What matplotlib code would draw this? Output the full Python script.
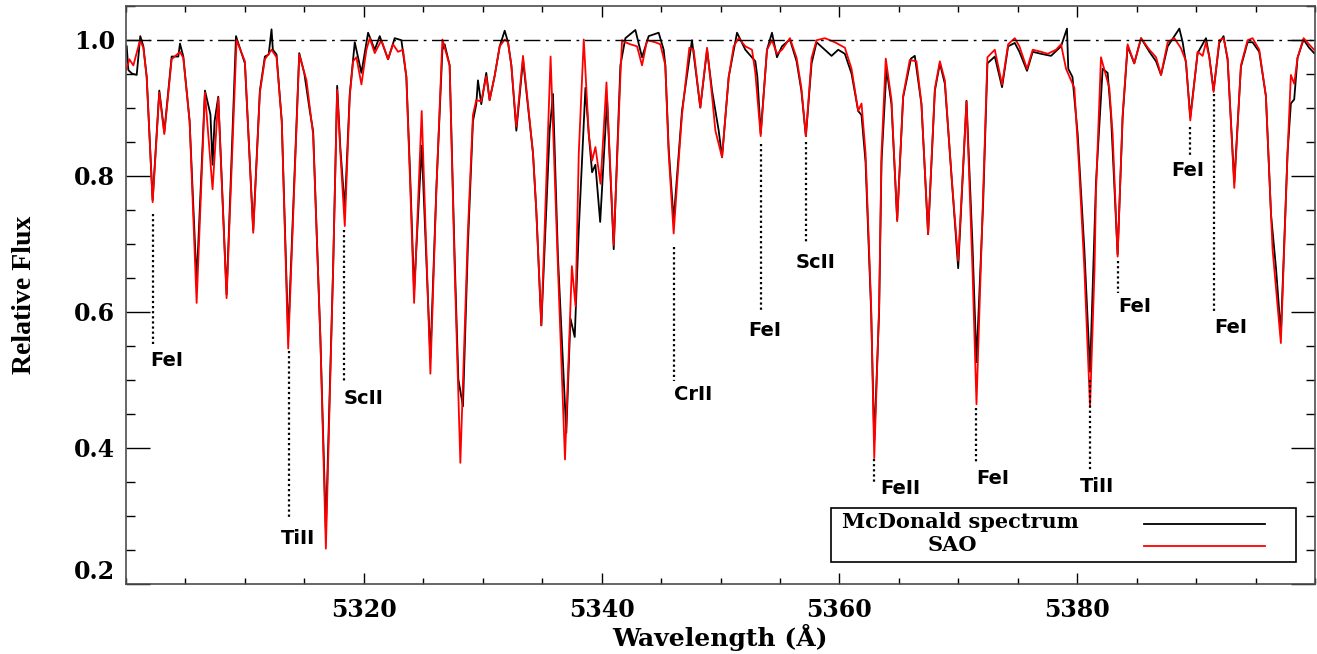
import matplotlib
matplotlib.use("Agg")
import matplotlib.pyplot as plt
from matplotlib.ticker import FixedLocator, MultipleLocator

# SAO spectrum (wavelength in Angstrom, relative flux)
sao_points = [
    (5300.06, 0.957), (5300.28, 0.971), (5300.62, 0.962), (5301.18, 0.999), (5301.46, 0.988),
    (5301.74, 0.945), (5302.24, 0.761), (5302.80, 0.922), (5303.22, 0.861), (5303.84, 0.971),
    (5304.54, 0.982), (5304.82, 0.973), (5305.35, 0.880), (5305.94, 0.613), (5306.64, 0.922),
    (5307.28, 0.780), (5307.76, 0.914), (5308.46, 0.620), (5309.30, 0.999), (5310.00, 0.968),
    (5310.70, 0.716), (5311.26, 0.922), (5311.68, 0.971), (5312.24, 0.985), (5312.66, 0.974),
    (5313.10, 0.880), (5313.64, 0.546), (5314.57, 0.978), (5315.18, 0.940), (5315.74, 0.860),
    (5316.35, 0.560), (5316.81, 0.252), (5317.42, 0.664), (5317.76, 0.926), (5318.03, 0.833),
    (5318.40, 0.726), (5318.82, 0.917), (5319.10, 0.968), (5319.38, 0.974), (5319.80, 0.934),
    (5320.22, 0.985), (5320.50, 1.002), (5320.92, 0.980), (5321.48, 0.999), (5322.04, 0.971),
    (5322.46, 0.993), (5322.88, 0.982), (5323.30, 0.985), (5323.58, 0.945), (5323.92, 0.777),
    (5324.23, 0.613), (5324.87, 0.895), (5325.60, 0.509), (5326.10, 0.777), (5326.61, 1.000),
    (5327.22, 0.962), (5327.64, 0.664), (5328.12, 0.378), (5328.76, 0.720), (5329.18, 0.889),
    (5329.46, 0.911), (5329.88, 0.909), (5330.30, 0.946), (5330.58, 0.911), (5331.00, 0.946),
    (5331.43, 0.990), (5331.85, 1.000), (5332.13, 0.996), (5332.41, 0.962), (5332.83, 0.872),
    (5333.39, 0.976), (5334.23, 0.833), (5334.51, 0.748), (5334.93, 0.580), (5335.71, 0.975),
    (5336.33, 0.664), (5336.92, 0.383), (5337.50, 0.667), (5337.81, 0.608), (5338.08, 0.833),
    (5338.50, 1.000), (5338.92, 0.861), (5339.20, 0.822), (5339.48, 0.842), (5339.91, 0.788),
    (5340.41, 0.937), (5341.02, 0.698), (5341.58, 0.946), (5341.72, 0.999), (5342.00, 0.996),
    (5342.42, 0.993), (5342.98, 0.990), (5343.40, 0.962), (5343.82, 0.999), (5344.52, 0.996),
    (5344.94, 0.993), (5345.36, 0.962), (5345.64, 0.833), (5346.06, 0.715), (5346.48, 0.822),
    (5346.76, 0.889), (5347.38, 0.988), (5347.74, 0.985), (5348.30, 0.900), (5348.87, 0.988),
    (5349.29, 0.917), (5349.57, 0.866), (5350.13, 0.827), (5350.69, 0.945), (5351.11, 0.990),
    (5351.53, 1.002), (5352.09, 0.990), (5352.65, 0.985), (5352.93, 0.951), (5353.38, 0.858),
    (5353.91, 0.985), (5354.33, 0.999), (5354.75, 0.979), (5355.17, 0.985), (5355.84, 1.002),
    (5356.40, 0.973), (5356.80, 0.929), (5357.18, 0.858), (5357.66, 0.973), (5358.08, 0.999),
    (5358.78, 1.002), (5359.62, 0.996), (5360.46, 0.988), (5361.02, 0.957), (5361.58, 0.895),
    (5361.86, 0.906), (5362.20, 0.833), (5362.67, 0.608), (5362.93, 0.385), (5363.34, 0.608),
    (5363.54, 0.833), (5363.90, 0.972), (5364.38, 0.911), (5364.86, 0.733), (5365.36, 0.917),
    (5365.92, 0.970), (5366.48, 0.968), (5366.90, 0.906), (5367.46, 0.714), (5368.03, 0.928),
    (5368.45, 0.968), (5368.87, 0.940), (5369.43, 0.799), (5369.99, 0.675), (5370.69, 0.909),
    (5371.19, 0.664), (5371.53, 0.464), (5372.09, 0.777), (5372.45, 0.974), (5373.07, 0.985),
    (5373.68, 0.934), (5374.19, 0.993), (5374.75, 1.002), (5375.14, 0.990), (5375.78, 0.957),
    (5376.26, 0.985), (5376.96, 0.982), (5377.52, 0.979), (5378.22, 0.985), (5378.64, 0.993),
    (5379.06, 0.957), (5379.76, 0.929), (5380.18, 0.805), (5380.60, 0.664), (5381.08, 0.461),
    (5381.46, 0.664), (5381.58, 0.777), (5382.00, 0.974), (5382.70, 0.929), (5382.98, 0.861),
    (5383.40, 0.681), (5383.82, 0.889), (5384.24, 0.993), (5384.80, 0.965), (5385.37, 1.002),
    (5386.07, 0.985), (5386.63, 0.974), (5387.05, 0.948), (5387.61, 0.996), (5388.17, 1.002),
    (5388.73, 0.987), (5389.15, 0.968), (5389.51, 0.881), (5390.13, 0.982), (5390.55, 0.976),
    (5390.83, 0.996), (5391.11, 0.974), (5391.47, 0.923), (5391.95, 0.999), (5392.31, 1.002),
    (5392.65, 0.973), (5393.21, 0.782), (5393.77, 0.962), (5394.33, 0.999), (5394.75, 1.002),
    (5395.31, 0.985), (5395.87, 0.917), (5396.43, 0.692), (5397.13, 0.554), (5397.69, 0.833),
    (5397.97, 0.948), (5398.25, 0.935), (5398.53, 0.973), (5399.04, 1.002), (5399.65, 0.990),
    (5399.93, 0.985),
]

# McDonald spectrum
mcd_points = [
    (5300.06, 0.990), (5300.20, 0.955), (5300.50, 0.950), (5300.90, 0.948), (5301.20, 1.005),
    (5301.46, 0.990), (5301.74, 0.945), (5302.24, 0.764), (5302.80, 0.925), (5303.22, 0.864),
    (5303.84, 0.975), (5304.40, 0.975), (5304.54, 0.994), (5304.82, 0.975), (5305.35, 0.880),
    (5305.94, 0.644), (5306.64, 0.925), (5307.10, 0.890), (5307.28, 0.816), (5307.45, 0.880),
    (5307.76, 0.916), (5308.46, 0.625), (5309.25, 1.005), (5310.00, 0.965), (5310.70, 0.720),
    (5311.26, 0.925), (5311.68, 0.975), (5312.00, 0.978), (5312.24, 1.015), (5312.35, 0.985),
    (5312.66, 0.978), (5313.10, 0.880), (5313.64, 0.563), (5314.57, 0.980), (5315.00, 0.950),
    (5315.46, 0.895), (5315.74, 0.865), (5316.35, 0.560), (5316.81, 0.279), (5317.42, 0.664),
    (5317.76, 0.932), (5318.03, 0.840), (5318.40, 0.751), (5318.82, 0.920), (5319.24, 0.996),
    (5319.80, 0.951), (5320.36, 1.010), (5320.92, 0.985), (5321.34, 1.005), (5322.04, 0.971),
    (5322.60, 1.002), (5323.16, 0.999), (5323.58, 0.945), (5323.92, 0.790), (5324.23, 0.630),
    (5324.87, 0.844), (5325.60, 0.532), (5326.10, 0.780), (5326.61, 0.985), (5326.80, 0.993),
    (5327.22, 0.962), (5327.64, 0.680), (5327.95, 0.501), (5328.34, 0.461), (5328.76, 0.700),
    (5329.18, 0.880), (5329.46, 0.905), (5329.60, 0.940), (5329.88, 0.905), (5330.30, 0.951),
    (5330.58, 0.911), (5331.00, 0.946), (5331.43, 0.990), (5331.85, 1.013), (5332.13, 0.996),
    (5332.41, 0.962), (5332.83, 0.866), (5333.39, 0.970), (5334.23, 0.833), (5334.51, 0.748),
    (5334.93, 0.580), (5335.63, 0.866), (5335.91, 0.920), (5336.33, 0.680), (5337.03, 0.422),
    (5337.38, 0.590), (5337.74, 0.563), (5338.08, 0.720), (5338.64, 0.929), (5338.92, 0.861),
    (5339.20, 0.805), (5339.48, 0.816), (5339.88, 0.732), (5340.46, 0.912), (5341.02, 0.692),
    (5341.58, 0.962), (5342.00, 1.002), (5342.84, 1.014), (5343.40, 0.974), (5343.96, 1.005),
    (5344.80, 1.010), (5345.22, 0.985), (5345.36, 0.962), (5345.64, 0.840), (5346.06, 0.734),
    (5346.48, 0.830), (5346.76, 0.895), (5347.60, 0.999), (5348.30, 0.900), (5348.87, 0.985),
    (5349.29, 0.925), (5349.57, 0.895), (5349.85, 0.866), (5350.13, 0.827), (5350.69, 0.945),
    (5351.39, 1.010), (5352.09, 0.985), (5352.93, 0.968), (5353.10, 0.945), (5353.38, 0.862),
    (5353.91, 0.985), (5354.33, 1.010), (5354.75, 0.974), (5355.17, 0.990), (5355.84, 1.000),
    (5356.40, 0.968), (5356.80, 0.925), (5357.18, 0.858), (5357.66, 0.965), (5358.08, 0.996),
    (5358.78, 0.985), (5359.34, 0.976), (5359.90, 0.985), (5360.46, 0.979), (5361.02, 0.950),
    (5361.58, 0.895), (5361.86, 0.889), (5362.20, 0.820), (5362.67, 0.600), (5362.93, 0.410),
    (5363.34, 0.600), (5363.54, 0.820), (5363.96, 0.957), (5364.38, 0.905), (5364.86, 0.735),
    (5365.36, 0.915), (5366.02, 0.972), (5366.34, 0.976), (5366.90, 0.905), (5367.46, 0.714),
    (5368.03, 0.925), (5368.45, 0.965), (5368.87, 0.935), (5369.43, 0.800), (5369.99, 0.664),
    (5370.69, 0.910), (5371.19, 0.700), (5371.53, 0.526), (5372.09, 0.760), (5372.45, 0.965),
    (5373.07, 0.975), (5373.68, 0.930), (5374.19, 0.990), (5374.75, 0.995), (5375.14, 0.982),
    (5375.78, 0.954), (5376.26, 0.982), (5376.96, 0.979), (5377.80, 0.976), (5378.64, 0.990),
    (5379.14, 1.016), (5379.25, 0.957), (5379.60, 0.945), (5380.04, 0.861), (5380.32, 0.777),
    (5380.60, 0.692), (5381.08, 0.512), (5381.35, 0.664), (5381.58, 0.790), (5382.14, 0.957),
    (5382.56, 0.951), (5382.84, 0.889), (5383.40, 0.684), (5383.82, 0.885), (5384.24, 0.990),
    (5384.80, 0.965), (5385.37, 1.002), (5386.07, 0.982), (5386.63, 0.968), (5387.05, 0.948),
    (5387.61, 0.990), (5388.17, 1.005), (5388.59, 1.016), (5388.87, 0.996), (5389.15, 0.965),
    (5389.51, 0.886), (5390.13, 0.980), (5390.83, 1.002), (5391.11, 0.975), (5391.47, 0.925),
    (5391.95, 0.995), (5392.31, 1.005), (5392.65, 0.970), (5393.21, 0.790), (5393.77, 0.960),
    (5394.33, 0.996), (5394.75, 0.996), (5395.31, 0.982), (5395.87, 0.917), (5396.30, 0.743),
    (5396.72, 0.664), (5397.13, 0.568), (5397.69, 0.833), (5397.97, 0.906), (5398.25, 0.912),
    (5398.53, 0.973), (5399.04, 1.000), (5399.50, 0.988), (5399.93, 0.980),
]

# line identifications
line_labels = ["FeI", "TiII", "ScII", "CrII", "FeI", "ScII",
               "FeII", "FeI", "TiII", "FeI", "FeI", "FeI"]
line_waves = [5302.24, 5313.72, 5318.37, 5346.06, 5353.38, 5357.18,
              5362.93, 5371.53, 5381.08, 5383.40, 5389.51, 5391.47]
mark_tops = [0.743, 0.543, 0.720, 0.695, 0.847, 0.850,
             0.383, 0.459, 0.500, 0.675, 0.872, 0.920]
mark_bottoms = [0.549, 0.298, 0.498, 0.498, 0.600, 0.700,
                0.349, 0.377, 0.368, 0.627, 0.830, 0.600]
text_x = [5302.0, 5313.0, 5318.3, 5346.06, 5352.36, 5356.32,
          5363.4, 5371.53, 5380.2, 5383.45, 5387.93, 5391.52]
text_y = [0.528, 0.267, 0.473, 0.478, 0.573, 0.672,
          0.340, 0.355, 0.343, 0.608, 0.808, 0.577]

xticks = [5320, 5340, 5360, 5380]
yticks = [0.2, 0.4, 0.6, 0.8, 1.0]

mcd_wave = [p[0] for p in mcd_points]
mcd_flux = [p[1] for p in mcd_points]
sao_wave = [p[0] for p in sao_points]
sao_flux = [p[1] for p in sao_points]

W, H = 1317, 654
fig = plt.figure(figsize=(W / 100, H / 100), dpi=100)
ax = fig.add_axes([126 / W, 1 - 584 / H, 1189 / W, 578.5 / H])

ax.plot(mcd_wave, mcd_flux, color="black", lw=1.3)
ax.plot(sao_wave, sao_flux, color="red", lw=1.3)
ax.axhline(1.0, color="black", lw=1.0, ls=(0, (12, 4, 2, 4)))

for lab, w, t, b, tx, ty in zip(line_labels, line_waves, mark_tops, mark_bottoms, text_x, text_y):
    ax.plot([w, w], [t, b], color="black", lw=1.6, ls=(0, (1, 1.3)))
    ax.text(tx, ty, lab, ha="left", va="center", fontsize=14,
            family="DejaVu Sans", fontweight="bold")

ax.set_xlim(5300, 5400)
ax.set_ylim(0.2, 1.05)

ax.xaxis.set_major_locator(FixedLocator(xticks))
ax.xaxis.set_minor_locator(MultipleLocator(5))
ax.yaxis.set_major_locator(FixedLocator(yticks))
ax.yaxis.set_minor_locator(MultipleLocator(0.05))
ax.set_yticklabels([f"{v:.1f}" for v in yticks])
ax.set_xticklabels([str(v) for v in xticks])

ax.tick_params(axis="both", which="both", direction="in", top=True, right=True, color="black", width=1)
ax.tick_params(axis="x", which="major", length=8, pad=10)
ax.tick_params(axis="x", which="minor", length=4)
ax.tick_params(axis="y", which="major", length=17, pad=8)
ax.tick_params(axis="y", which="minor", length=6.5)

for lbl in ax.get_xticklabels() + ax.get_yticklabels():
    lbl.set_family("DejaVu Serif")
    lbl.set_fontweight("bold")
    lbl.set_fontsize(17)
ax.get_yticklabels()[0].set_va("bottom")

for sp in ax.spines.values():
    sp.set_color("0.3")
    sp.set_linewidth(1.2)

fig.text(720 / W, 1 - 637 / H, "Wavelength (Å)", ha="center", va="center",
         family="DejaVu Serif", fontweight="bold", fontsize=18)
fig.text(25 / W, 1 - 295 / H, "Relative Flux", ha="center", va="center", rotation=90,
         family="Liberation Serif", fontweight="bold", fontsize=20)

# legend box: text first, line sample after
box = plt.Rectangle((0.593, 0.038), 0.391, 0.093, transform=ax.transAxes,
                    facecolor="white", edgecolor="black", lw=1.2, zorder=5)
ax.add_patch(box)
ax.text(0.6025, 0.1072, "McDonald spectrum", transform=ax.transAxes, ha="left", va="center",
        family="DejaVu Serif", fontweight="bold", fontsize=15, zorder=6)
ax.text(0.6954, 0.0674, "SAO", transform=ax.transAxes, ha="center", va="center",
        family="DejaVu Serif", fontweight="bold", fontsize=15, zorder=6)
ax.plot([0.8563, 0.958], [0.1037, 0.1037], transform=ax.transAxes, color="black", lw=1.3, zorder=6)
ax.plot([0.8563, 0.958], [0.0657, 0.0657], transform=ax.transAxes, color="red", lw=1.3, zorder=6)

fig.savefig("out.png", dpi=100)
